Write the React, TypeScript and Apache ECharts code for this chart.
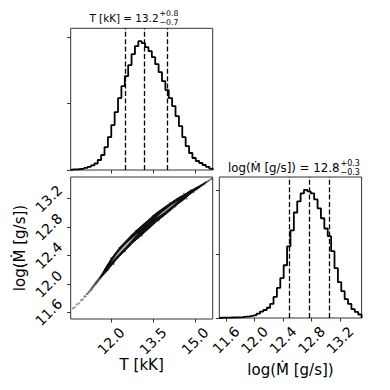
import React, { useEffect, useRef } from "react";
import * as echarts from "echarts";

// ---- data ----
const T_RANGE = [10.56, 15.63];
const M_RANGE = [11.505, 13.505];
const T_COUNTS = [8, 10, 15, 22, 33, 48, 68, 98, 150, 225, 345, 495, 675, 870, 1080, 1260, 1410, 1575, 1740, 1860, 1935, 1905, 1845, 1785, 1695, 1590, 1470, 1335, 1200, 1080, 960, 810, 660, 495, 360, 255, 180, 135, 105, 75, 48, 22];
const M_COUNTS = [4, 5, 6, 8, 9, 11, 15, 20, 26, 36, 47, 67, 100, 125, 160, 220, 330, 470, 625, 825, 1120, 1370, 1650, 1825, 1950, 2005, 1980, 1950, 1855, 1715, 1560, 1400, 1280, 1045, 780, 560, 420, 295, 220, 140, 95, 55];
const T_QUANT = [12.5, 13.2, 14.0];
const M_QUANT = [12.49, 12.77, 13.05];
const T_TICKS = [12.0, 13.5, 15.0];
const M_TICKS = [11.6, 12.0, 12.4, 12.8, 13.2];
const HIST_TICKS = [0, 1000, 2000];

const RIDGE_T = [10.6, 10.8, 11.0, 11.2, 11.4, 11.6, 11.8, 12.0, 12.2, 12.4, 12.6, 12.8, 13.0, 13.2, 13.4, 13.6, 13.8, 14.0, 14.2, 14.4, 14.6, 14.8, 15.0, 15.2, 15.4, 15.6];
const RIDGE_M = [11.64, 11.71, 11.79, 11.88, 11.98, 12.08, 12.19, 12.30, 12.40, 12.49, 12.57, 12.65, 12.72, 12.79, 12.86, 12.93, 12.99, 13.05, 13.11, 13.17, 13.22, 13.28, 13.33, 13.38, 13.43, 13.48];
const OUTER_W = [null, null, null, null, null, 0, 0.035, 0.05, 0.058, 0.062, 0.064, 0.065, 0.066, 0.066, 0.065, 0.063, 0.06, 0.056, 0.05, 0.043, 0.034, 0.025, 0.015, 0.007, 0, null];
const LENS_W = [null, null, null, null, null, null, null, 0, 0.016, 0.02, 0.018, 0.01, 0, null, null, 0, 0.012, 0.013, 0.01, 0, null, null, null, null, null, null];

const POINTS = [
  [10.64, 11.655], [10.70, 11.67], [10.78, 11.71], [10.86, 11.725], [10.93, 11.77], [10.99, 11.78],
  [11.05, 11.82], [11.09, 11.825], [11.13, 11.86], [11.17, 11.86], [11.20, 11.89], [11.23, 11.885],
  [11.26, 11.915], [11.28, 11.91], [11.30, 11.94], [11.32, 11.93], [11.34, 11.96], [11.36, 11.95],
  [11.38, 11.98], [11.40, 11.97], [11.42, 12.00], [11.44, 11.99], [11.45, 12.015], [11.47, 12.005],
  [11.48, 12.03], [11.50, 12.02], [11.51, 12.045], [11.53, 12.035], [11.54, 12.06], [11.56, 12.05],
  [11.57, 12.075], [11.59, 12.065], [11.60, 12.09], [11.62, 12.08], [11.63, 12.105], [11.65, 12.095],
  [11.66, 12.125], [11.68, 12.11], [11.70, 12.14], [11.72, 12.13], [11.74, 12.165], [11.76, 12.15],
  [11.78, 12.19], [11.80, 12.165], [11.83, 12.215], [11.86, 12.19], [11.90, 12.2], [11.95, 12.27],
  [12.0, 12.36], [12.1, 12.28], [12.3, 12.51], [12.5, 12.46], [12.9, 12.75], [13.1, 12.68],
  [13.5, 12.96], [13.7, 12.89], [14.1, 13.14], [14.3, 13.09], [14.6, 13.27], [14.7, 13.2],
  [14.85, 13.32], [14.9, 13.3], [14.95, 13.29], [15.02, 13.345], [15.05, 13.33], [15.08, 13.36],
  [15.11, 13.345], [15.14, 13.37], [15.17, 13.36], [15.20, 13.39], [15.23, 13.38], [15.26, 13.40],
  [15.29, 13.395], [15.32, 13.415], [15.35, 13.41], [15.38, 13.43], [15.42, 13.435], [15.46, 13.445],
  [15.50, 13.455], [15.55, 13.47], [15.60, 13.48],
];

const T_TITLE = ["T [kK] = 13.2", "+0.8", "−0.7"];
const M_TITLE = ["log(Ṁ [g/s]) = 12.8", "+0.3", "−0.3"];
const T_LABEL = "T [kK]";
const M_LABEL = "log(Ṁ [g/s])";

const FONT = "DejaVu Sans";
const SPINE = "#333";

function stepData(range: number[], counts: number[]) {
  const n = counts.length;
  const w = (range[1] - range[0]) / n;
  const pts: number[][] = [[range[0], 0]];
  counts.forEach((c, i) => {
    pts.push([range[0] + i * w, c]);
    pts.push([range[0] + (i + 1) * w, c]);
  });
  pts.push([range[1], 0]);
  return pts;
}

function runs(w: (number | null)[]) {
  const out: number[][] = [];
  let cur: number[] = [];
  w.forEach((v, i) => {
    if (v === null) {
      if (cur.length) out.push(cur);
      cur = [];
    } else cur.push(i);
  });
  if (cur.length) out.push(cur);
  return out;
}

const LEVELS = [
  { w: OUTER_W, fill: "#111", stroke: "#000", lw: 1 },
  { w: LENS_W, fill: "#c4c4c4", stroke: "#222", lw: 0.5 },
];

const fmt = (v: number) => v.toFixed(1);

export default function App() {
  const ref = useRef<HTMLDivElement>(null);
  useEffect(() => {
    if (!ref.current) return;
    const chart = echarts.init(ref.current, null, { renderer: "svg" });
    const tickStyle = { show: true, inside: false, length: 3.5, lineStyle: { color: SPINE, width: 1 } };
    const labelStyle = {
      rotate: 45,
      align: "center",
      verticalAlign: "middle",
      margin: 22,
      fontFamily: FONT,
      fontSize: 14,
      color: "#000",
      formatter: fmt,
    };
    const histY = (max: number, grid: number) => ({
      type: "value",
      gridIndex: grid,
      min: 0,
      max,
      interval: 1000,
      axisLine: { show: false },
      axisTick: { ...tickStyle, customValues: HIST_TICKS },
      axisLabel: { show: false },
      splitLine: { show: false },
    });
    const valAxis = (range: number[], grid: number, ticks: number[], showLabel: boolean) => ({
      type: "value",
      gridIndex: grid,
      min: range[0],
      max: range[1],
      axisLine: { show: false },
      axisTick: { ...tickStyle, customValues: ticks },
      axisLabel: showLabel ? { ...labelStyle, customValues: ticks } : { show: false },
      splitLine: { show: false },
    });
    const gridBase = { show: true, borderColor: SPINE, borderWidth: 1, containLabel: false, backgroundColor: "transparent" };
    const dash = { type: [5, 2.4], color: "#000", width: 1.3 };

    const option: any = {
      animation: false,
      grid: [
        { ...gridBase, left: 70.7, top: 28.3, width: 142, height: 141.7 },
        { ...gridBase, left: 70.7, top: 177, width: 142, height: 142 },
        { ...gridBase, left: 219.3, top: 177, width: 142.3, height: 141 },
      ],
      xAxis: [
        valAxis(T_RANGE, 0, T_TICKS, false),
        valAxis(T_RANGE, 1, T_TICKS, true),
        valAxis(M_RANGE, 2, M_TICKS, true),
      ],
      yAxis: [
        histY(Math.max(...T_COUNTS) * 1.1, 0),
        valAxis(M_RANGE, 1, M_TICKS, true),
        histY(Math.max(...M_COUNTS) * 1.1, 2),
      ],
      series: [
        {
          type: "line",
          xAxisIndex: 0,
          yAxisIndex: 0,
          data: stepData(T_RANGE, T_COUNTS),
          showSymbol: false,
          lineStyle: { color: "#000", width: 1.8 },
          markLine: {
            symbol: "none",
            silent: true,
            label: { show: false },
            lineStyle: dash,
            data: T_QUANT.map((v) => ({ xAxis: v })),
          },
        },
        {
          type: "line",
          xAxisIndex: 2,
          yAxisIndex: 2,
          data: stepData(M_RANGE, M_COUNTS),
          showSymbol: false,
          lineStyle: { color: "#000", width: 1.8 },
          markLine: {
            symbol: "none",
            silent: true,
            label: { show: false },
            lineStyle: dash,
            data: M_QUANT.map((v) => ({ xAxis: v })),
          },
        },
        {
          type: "scatter",
          xAxisIndex: 1,
          yAxisIndex: 1,
          data: POINTS,
          symbolSize: 2.2,
          itemStyle: { color: "rgba(0,0,0,0.55)" },
        },
        {
          type: "custom",
          xAxisIndex: 1,
          yAxisIndex: 1,
          clip: true,
          data: LEVELS.map((_, i) => [RIDGE_T[0], RIDGE_M[0], i]),
          renderItem: (params: any, api: any) => {
            const lvl = LEVELS[params.dataIndex];
            const children = runs(lvl.w).map((run) => {
              const up = run.map((i) => api.coord([RIDGE_T[i], RIDGE_M[i] + (lvl.w[i] as number)]));
              const lo = run
                .slice()
                .reverse()
                .map((i) => api.coord([RIDGE_T[i], RIDGE_M[i] - (lvl.w[i] as number)]));
              return {
                type: "polygon",
                shape: { points: up.concat(lo), smooth: 0.3 },
                style: { fill: lvl.fill, stroke: lvl.stroke, lineWidth: lvl.lw },
              };
            });
            return { type: "group", children };
          },
        },
      ],
      graphic: [
        { type: "text", x: 158.5, y: 17.5, style: { text: T_TITLE[0], font: `10.4px "${FONT}"`, fill: "#000", textAlign: "right", textVerticalAlign: "middle" } },
        { type: "text", x: 159.5, y: 13.8, style: { text: T_TITLE[1], font: `7.8px "${FONT}"`, fill: "#000", textAlign: "left", textVerticalAlign: "middle" } },
        { type: "text", x: 159.5, y: 22.6, style: { text: T_TITLE[2], font: `7.8px "${FONT}"`, fill: "#000", textAlign: "left", textVerticalAlign: "middle" } },
        { type: "text", x: 339.5, y: 167.5, style: { text: M_TITLE[0], font: `11.8px "${FONT}"`, fill: "#000", textAlign: "right", textVerticalAlign: "middle" } },
        { type: "text", x: 340.5, y: 163.6, style: { text: M_TITLE[1], font: `8px "${FONT}"`, fill: "#000", textAlign: "left", textVerticalAlign: "middle" } },
        { type: "text", x: 340.5, y: 172.8, style: { text: M_TITLE[2], font: `8px "${FONT}"`, fill: "#000", textAlign: "left", textVerticalAlign: "middle" } },
        { type: "text", x: 141.7, y: 365, style: { text: T_LABEL, font: `15px "${FONT}"`, fill: "#000", textAlign: "center", textVerticalAlign: "middle" } },
        { type: "text", x: 290.5, y: 370, style: { text: M_LABEL, font: `15px "${FONT}"`, fill: "#000", textAlign: "center", textVerticalAlign: "middle" } },
        { type: "text", x: 20, y: 248, rotation: Math.PI / 2, style: { text: M_LABEL, font: `15px "${FONT}"`, fill: "#000", textAlign: "center", textVerticalAlign: "middle" } },
      ],
    };
    chart.setOption(option);
    return () => chart.dispose();
  }, []);
  return <div ref={ref} style={{ position: "fixed", left: 0, top: 0, width: 390, height: 390, background: "#fff" }} />;
}
